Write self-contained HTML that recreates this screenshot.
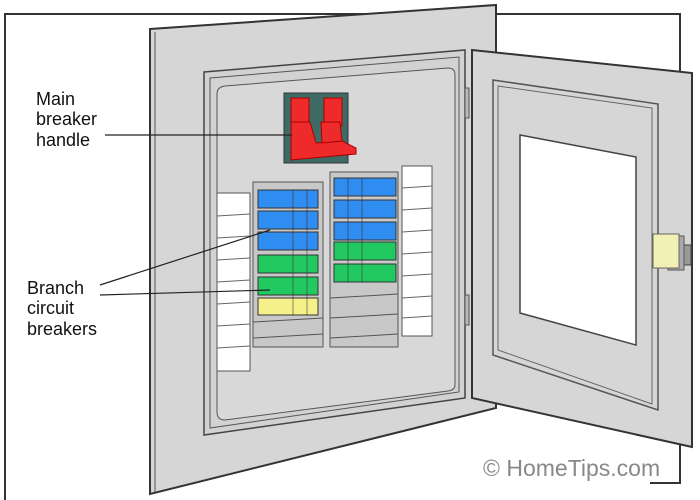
<!DOCTYPE html>
<html><head><style>body{margin:0;background:#fff}svg{display:block}</style></head><body>
<svg width="700" height="500" viewBox="0 0 700 500" xmlns="http://www.w3.org/2000/svg" font-family="Liberation Sans, sans-serif">
<rect width="700" height="500" fill="#fff"/>
<polyline points="5,500 5,14 680,14 680,483 650,483" fill="none" stroke="#333" stroke-width="2"/>
<polygon points="150,29 496,5 496,408 150,494" fill="#d6d6d6" stroke="#333" stroke-width="2"/>
<line x1="155" y1="32" x2="155" y2="492" stroke="#555"/>
<polygon points="204,72 465,50 465,398 204,435" fill="#d2d2d2" stroke="#444" stroke-width="1.5"/>
<polygon points="210,78 459,57 459,392 210,428" fill="none" stroke="#555" stroke-width="1"/>
<path d="M225,86 L448,68 Q455,68 455,75 L455,385 Q455,390 448,391 L225,420 Q217,420 217,412 L217,94 Q217,87 225,86 Z" fill="#d8d8d8" stroke="#555" stroke-width="1"/>
<rect x="465" y="88" width="4" height="30" fill="#bbb" stroke="#555"/>
<rect x="465" y="295" width="4" height="30" fill="#bbb" stroke="#555"/>
<rect x="284" y="93" width="64" height="70" fill="#3e6b66" stroke="#333"/>
<rect x="291" y="98" width="18" height="28" fill="#ee2a2a" stroke="#a00"/>
<rect x="324" y="98" width="18" height="28" fill="#ee2a2a" stroke="#a00"/>
<path d="M291,122 L310,122 L316,143 L342,141 L356,148 L356,154 L291,160 Z" fill="#ee2a2a" stroke="#a00"/>
<path d="M321,122 L340,122 L342,141 L322,143 Z" fill="#ee2a2a" stroke="#a00"/>
<rect x="217" y="193" width="33" height="178" fill="#fff" stroke="#555"/>
<g stroke="#666"><line x1="217" y1="216" x2="250" y2="214"/><line x1="217" y1="238" x2="250" y2="236"/><line x1="217" y1="260" x2="250" y2="258"/><line x1="217" y1="282" x2="250" y2="280"/><line x1="217" y1="304" x2="250" y2="302"/><line x1="217" y1="326" x2="250" y2="324"/><line x1="217" y1="348" x2="250" y2="346"/></g>
<rect x="402" y="166" width="30" height="170" fill="#fff" stroke="#555"/>
<g stroke="#666"><line x1="402" y1="188" x2="432" y2="186"/><line x1="402" y1="210" x2="432" y2="208"/><line x1="402" y1="232" x2="432" y2="230"/><line x1="402" y1="254" x2="432" y2="252"/><line x1="402" y1="276" x2="432" y2="274"/><line x1="402" y1="298" x2="432" y2="296"/><line x1="402" y1="318" x2="432" y2="316"/></g>
<rect x="253" y="182" width="70" height="165" fill="#c8c8c8" stroke="#555"/>
<rect x="330" y="172" width="68" height="175" fill="#c8c8c8" stroke="#555"/>
<g stroke="#555">
<line x1="253" y1="322" x2="323" y2="318"/><line x1="253" y1="338" x2="323" y2="334"/>
<line x1="330" y1="298" x2="398" y2="294"/><line x1="330" y1="318" x2="398" y2="314"/><line x1="330" y1="338" x2="398" y2="334"/>
</g>
<g stroke="#333" stroke-width="1">
<rect x="258" y="190" width="60" height="18" fill="#2f8cf0"/>
<rect x="258" y="211" width="60" height="18" fill="#2f8cf0"/>
<rect x="258" y="232" width="60" height="18" fill="#2f8cf0"/>
<rect x="258" y="255" width="60" height="18" fill="#22c860"/>
<rect x="258" y="277" width="60" height="18" fill="#22c860"/>
<rect x="258" y="298" width="60" height="17" fill="#f6f08a"/>
<rect x="334" y="178" width="62" height="18" fill="#2f8cf0"/>
<rect x="334" y="200" width="62" height="18" fill="#2f8cf0"/>
<rect x="334" y="222" width="62" height="18" fill="#2f8cf0"/>
<rect x="334" y="242" width="62" height="18" fill="#22c860"/>
<rect x="334" y="264" width="62" height="18" fill="#22c860"/>
</g>
<g stroke="#333" stroke-width="0.8" opacity="0.7">
<line x1="293" y1="190" x2="293" y2="315"/><line x1="307" y1="190" x2="307" y2="315"/>
<line x1="348" y1="178" x2="348" y2="282"/><line x1="362" y1="178" x2="362" y2="282"/>
</g>
<polygon points="472,50 692,73 692,447 472,398" fill="#d6d6d6" stroke="#333" stroke-width="2"/>
<polygon points="493,80 658,104 658,410 493,355" fill="none" stroke="#555" stroke-width="1.5"/>
<polygon points="498,86 652,108 652,404 498,350" fill="none" stroke="#666" stroke-width="1"/>
<polygon points="520,135 636,157 636,345 520,313" fill="#fff" stroke="#444" stroke-width="1.5"/>
<rect x="683" y="245" width="8" height="20" fill="#999" stroke="#444"/>
<rect x="668" y="236" width="16" height="34" fill="#aaa" stroke="#555"/>
<rect x="653" y="234" width="26" height="34" fill="#f3f0b5" stroke="#666"/>
<g stroke="#222" stroke-width="1.2">
<line x1="105" y1="135" x2="292" y2="135"/>
<line x1="100" y1="285" x2="270" y2="230"/>
<line x1="100" y1="295" x2="270" y2="290"/>
</g>
<g font-size="18" fill="#111">
<text x="36" y="105">Main</text><text x="36" y="125">breaker</text><text x="36" y="146">handle</text>
<text x="27" y="294">Branch</text><text x="27" y="314">circuit</text><text x="27" y="335">breakers</text>
</g>
<text x="483" y="476" font-size="23" fill="#888">© HomeTips.com</text>
</svg>
</body></html>
